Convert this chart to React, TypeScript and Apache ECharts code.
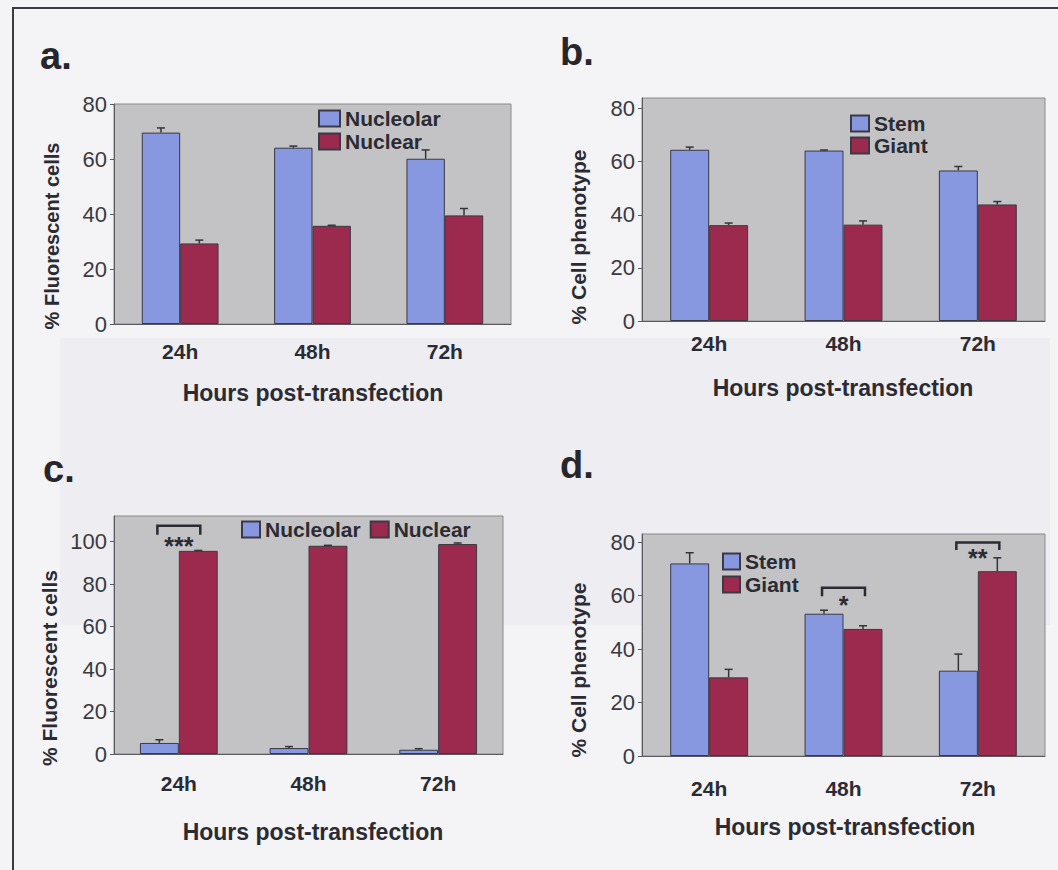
import React, { useEffect, useRef } from "react";
import * as echarts from "echarts";

// ---- data ----
const categories = ["24h", "48h", "72h"];

// panel a: % Fluorescent cells
const aNucleolar = [69.6, 64.1, 60.1];
const aNucleolarErr = [1.7, 0.6, 3.2];
const aNuclear = [29.3, 35.7, 39.5];
const aNuclearErr = [1.2, 0.2, 2.5];

// panel b: % Cell phenotype
const bStem = [64.5, 64.2, 56.7];
const bStemErr = [1.0, 0.2, 1.5];
const bGiant = [36.1, 36.3, 43.9];
const bGiantErr = [0.8, 1.4, 1.1];

// panel c: % Fluorescent cells
const cNucleolar = [5.2, 2.8, 2.0];
const cNucleolarErr = [1.5, 0.7, 0.5];
const cNuclear = [95.6, 98.0, 98.8];
const cNuclearErr = [0.2, 0.2, 0.5];

// panel d: % Cell phenotype
const dStem = [72.0, 53.2, 31.9];
const dStemErr = [4.0, 1.3, 6.2];
const dGiant = [29.4, 47.5, 69.1];
const dGiantErr = [3.0, 1.2, 5.0];

// significance: [categoryIndex, bracketTop, legBottom, starCentre]
const cSig = [[0, 107.4, 103.2, 99.5]];
const cSigLabels = ["***"];
const dSig = [
  [1, 62.9, 59.7, 57.5],
  [2, 79.8, 77.0, 75.2],
];
const dSigLabels = ["*", "**"];

const yTicks80 = [0, 20, 40, 60, 80];
const yTicks100 = [0, 20, 40, 60, 80, 100];

const BLUE = "#8797e0";
const RED = "#9c2a4e";
const PLOT_BG = "#c3c3c5";
const PAGE_BG = "#f4f3f6";
const TXT = "#2b2b33";
const FONT = "'Liberation Sans', Arial, sans-serif";

export default function App() {
  const ref = useRef<HTMLDivElement>(null);

  useEffect(() => {
    if (!ref.current) return;
    const chart = echarts.init(ref.current, null, { renderer: "svg" });

    const gaps = [0.42, 0.42, 0.4, 0.42];

    const grids = [
      { left: 114, top: 104, width: 397, height: 220 },
      { left: 642, top: 98, width: 403, height: 223 },
      { left: 114, top: 516, width: 389, height: 238 },
      { left: 642, top: 534, width: 403, height: 222 },
    ].map((g) => ({
      ...g,
      show: true,
      backgroundColor: PLOT_BG,
      borderColor: "#8a8a8e",
      borderWidth: 1,
      containLabel: false,
    }));

    const labelMargins = [17, 12, 19, 22];
    const xAxes = labelMargins.map((m, i) => ({
      type: "category",
      gridIndex: i,
      data: categories,
      axisLine: { lineStyle: { color: "#5a5a60", width: 1 } },
      axisTick: { show: false },
      axisLabel: {
        margin: m,
        fontSize: 21,
        fontWeight: "bold",
        fontFamily: FONT,
        color: TXT,
      },
      splitLine: { show: false },
    }));

    const maxes = [80, 84, 112, 83];
    const tickSets = [yTicks80, yTicks80, yTicks100, yTicks80];
    const yAxes = maxes.map((mx, i) => ({
      type: "value",
      gridIndex: i,
      min: 0,
      max: mx,
      interval: 20,
      axisLine: { show: true, lineStyle: { color: "#5a5a60", width: 1 } },
      axisTick: {
        show: true,
        length: 4,
        customValues: tickSets[i],
        lineStyle: { color: "#5a5a60" },
      },
      axisLabel: {
        customValues: tickSets[i],
        formatter: (v: number) => (v % 20 === 0 ? String(v) : ""),
        margin: 7,
        fontSize: 22,
        fontFamily: FONT,
        color: "#3a3a40",
      },
      splitLine: { show: false },
    }));

    const barSeries = (idx: number, name: string, data: number[], color: string) => ({
      type: "bar",
      name,
      xAxisIndex: idx,
      yAxisIndex: idx,
      data,
      barGap: "0%",
      barCategoryGap: `${gaps[idx] * 100}%`,
      itemStyle: { color, borderColor: "#3a3a44", borderWidth: 1 },
      silent: true,
      z: 2,
    });

    const errSeries = (idx: number, side: number, vals: number[], errs: number[]) => ({
      type: "custom",
      name: `err-${idx}-${side}`,
      xAxisIndex: idx,
      yAxisIndex: idx,
      data: vals.map((v, k) => [k, v, errs[k]]),
      encode: { x: 0, y: 1 },
      silent: true,
      clip: false,
      z: 4,
      renderItem: (params: any, api: any) => {
        const k = api.value(0);
        const v = api.value(1);
        const e = api.value(2);
        const base = api.coord([k, v]);
        const top = api.coord([k, v + e]);
        const cw = api.size([1, 0])[0];
        const bw = (cw * (1 - gaps[idx])) / 2;
        const x = base[0] + (side * bw) / 2;
        const st = { stroke: "#333338", lineWidth: 1.5 };
        return {
          type: "group",
          children: [
            { type: "line", shape: { x1: x, y1: base[1], x2: x, y2: top[1] }, style: st },
            { type: "line", shape: { x1: x - 4, y1: top[1], x2: x + 4, y2: top[1] }, style: st },
          ],
        };
      },
    });

    const sigSeries = (idx: number, data: number[][], labels: string[]) => ({
      type: "custom",
      name: `sig-${idx}`,
      xAxisIndex: idx,
      yAxisIndex: idx,
      data,
      encode: { x: 0, y: 1 },
      silent: true,
      clip: false,
      z: 5,
      renderItem: (params: any, api: any) => {
        const k = api.value(0);
        const topP = api.coord([k, api.value(1)]);
        const legP = api.coord([k, api.value(2)]);
        const starP = api.coord([k, api.value(3)]);
        const cw = api.size([1, 0])[0];
        const bw = (cw * (1 - gaps[idx])) / 2;
        const xl = topP[0] - bw / 2 - 2;
        const xr = topP[0] + bw / 2 + 2;
        const st = { stroke: "#2b2b33", lineWidth: 2.5, fill: "none" };
        return {
          type: "group",
          children: [
            {
              type: "polyline",
              shape: {
                points: [
                  [xl, legP[1]],
                  [xl, topP[1]],
                  [xr, topP[1]],
                  [xr, legP[1]],
                ],
              },
              style: st,
            },
            {
              type: "text",
              x: topP[0],
              y: starP[1] + 3,
              style: {
                text: labels[params.dataIndex],
                fontSize: 25,
                fontWeight: "bold",
                fontFamily: FONT,
                fill: "#2b2b33",
                align: "center",
                verticalAlign: "middle",
              },
            },
          ],
        };
      },
    });

    const legendBase = {
      icon: "rect",
      padding: 0,
      selectedMode: false,
      textStyle: { fontSize: 21, fontWeight: "bold", fontFamily: FONT, color: TXT, lineHeight: 20 },
    };

    const legends = [
      { ...legendBase, left: 318, top: 108, orient: "vertical", itemWidth: 21, itemHeight: 16, itemGap: 2, data: ["Nucleolar", "Nuclear"] },
      { ...legendBase, left: 850, top: 113, orient: "vertical", itemWidth: 18, itemHeight: 16, itemGap: 1, data: ["Stem", "Giant"] },
      { ...legendBase, left: 241, top: 519, orient: "horizontal", itemWidth: 18, itemHeight: 16, itemGap: 9, data: ["Nucleolar", "Nuclear"] },
      { ...legendBase, left: 722, top: 551, orient: "vertical", itemWidth: 17, itemHeight: 16, itemGap: 2, data: ["Stem", "Giant"] },
    ];

    const panelLabel = (t: string, x: number, y: number) => ({
      type: "text",
      x,
      y,
      z: 10,
      style: { text: t, fontSize: 38, fontWeight: "bold", fontFamily: FONT, fill: "#26262c", align: "left", verticalAlign: "middle" },
    });
    const yName = (t: string, x: number, y: number, size: number) => ({
      type: "text",
      x,
      y,
      rotation: Math.PI / 2,
      z: 10,
      style: { text: t, fontSize: size, fontWeight: "bold", fontFamily: FONT, fill: TXT, align: "center", verticalAlign: "middle" },
    });
    const xName = (x: number, y: number) => ({
      type: "text",
      x,
      y,
      z: 10,
      style: { text: "Hours post-transfection", fontSize: 23, fontWeight: "bold", fontFamily: FONT, fill: TXT, align: "center", verticalAlign: "middle" },
    });

    chart.setOption({
      animation: false,
      backgroundColor: PAGE_BG,
      grid: grids,
      xAxis: xAxes,
      yAxis: yAxes,
      legend: legends,
      series: [
        barSeries(0, "Nucleolar", aNucleolar, BLUE),
        barSeries(0, "Nuclear", aNuclear, RED),
        errSeries(0, -1, aNucleolar, aNucleolarErr),
        errSeries(0, 1, aNuclear, aNuclearErr),
        barSeries(1, "Stem", bStem, BLUE),
        barSeries(1, "Giant", bGiant, RED),
        errSeries(1, -1, bStem, bStemErr),
        errSeries(1, 1, bGiant, bGiantErr),
        barSeries(2, "Nucleolar", cNucleolar, BLUE),
        barSeries(2, "Nuclear", cNuclear, RED),
        errSeries(2, -1, cNucleolar, cNucleolarErr),
        errSeries(2, 1, cNuclear, cNuclearErr),
        sigSeries(2, cSig, cSigLabels),
        barSeries(3, "Stem", dStem, BLUE),
        barSeries(3, "Giant", dGiant, RED),
        errSeries(3, -1, dStem, dStemErr),
        errSeries(3, 1, dGiant, dGiantErr),
        sigSeries(3, dSig, dSigLabels),
      ],
      graphic: [
        { type: "rect", z: -10, shape: { x: 60, y: 338, width: 990, height: 287 }, style: { fill: "#eeedf1" }, silent: true },
        { type: "rect", z: -5, shape: { x: 13, y: 8, width: 1100, height: 900 }, style: { fill: "none", stroke: "#3a3a40", lineWidth: 2 }, silent: true },
        panelLabel("a.", 40, 56),
        panelLabel("b.", 560, 52),
        panelLabel("c.", 43, 469),
        panelLabel("d.", 560, 465),
        yName("% Fluorescent cells", 52, 236, 20),
        yName("% Cell phenotype", 578, 237, 21),
        yName("% Fluorescent cells", 49, 668, 21),
        yName("% Cell phenotype", 578, 670, 21),
        xName(313, 393),
        xName(843, 388),
        xName(313, 832),
        xName(845, 827),
      ],
    });

    return () => chart.dispose();
  }, []);

  return (
    <div
      ref={ref}
      style={{ position: "fixed", left: 0, top: 0, width: 1058, height: 870, background: PAGE_BG }}
    />
  );
}
